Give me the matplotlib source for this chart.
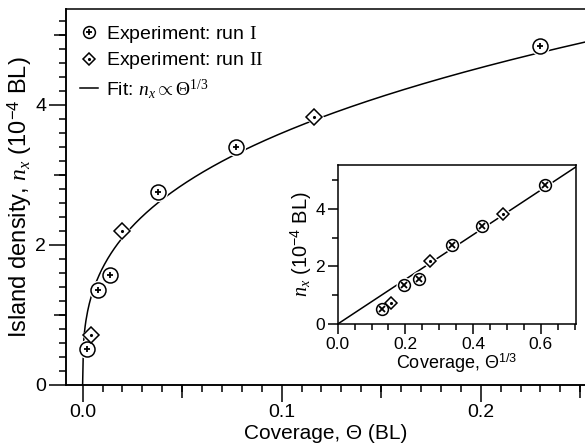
import numpy as np
import matplotlib
matplotlib.use('Agg')
import matplotlib.pyplot as plt
from matplotlib.lines import Line2D
from matplotlib.legend_handler import HandlerTuple

plt.rcParams['font.family'] = ['Liberation Sans', 'DejaVu Sans']
plt.rcParams['mathtext.fontset'] = 'custom'
plt.rcParams['mathtext.rm'] = 'Liberation Serif'
plt.rcParams['mathtext.it'] = 'Liberation Serif:italic'
plt.rcParams['mathtext.sf'] = 'Liberation Sans'

# data
theta_run1 = [0.0023, 0.0076, 0.014, 0.038, 0.077, 0.230]   # coverage (BL)
n_run1 = [0.51, 1.35, 1.57, 2.75, 3.40, 4.84]              # 1e-4 BL
theta_run2 = [0.0040, 0.020, 0.116]
n_run2 = [0.72, 2.20, 3.83]
k_fit = 7.75   # n_x = k * theta^(1/3)

xticks_main = [0.0, 0.1, 0.2]
yticks_main = [0, 2, 4]
xticks_inset = [0.0, 0.2, 0.4, 0.6]
yticks_inset = [0, 2, 4]

lw = 1.1

fig = plt.figure(figsize=(5.85, 4.46), dpi=100)
ax = fig.add_axes([0.1123, 0.1368, 1.0 - 0.1123, 0.9798 - 0.1368])


def draw_points(a, x, y, kind, big):
    if kind == 'circ':
        ms = 10.8 if big else 8.5
        a.plot(x, y, 'o', ms=ms + 3, mfc='white', mec='none', zorder=3, clip_on=False)
        a.plot(x, y, 'o', ms=ms, mfc='white', mec='black', mew=lw, zorder=4, clip_on=False)
        a.plot(x, y, '+' if big else 'x', ms=ms * 0.45, mec='black', mew=1.3, zorder=5, clip_on=False)
    else:
        ms = 8 if big else 6.6
        a.plot(x, y, 'D', ms=ms + 2.5, mfc='white', mec='none', zorder=3, clip_on=False)
        a.plot(x, y, 'D', ms=ms, mfc='white', mec='black', mew=lw, zorder=4, clip_on=False)
        a.plot(x, y, '.', ms=2.5, mfc='black', mec='black', zorder=5, clip_on=False)


# main panel
tt = np.linspace(0, 0.2524, 600)
ax.plot(tt, k_fit * tt ** (1 / 3), color='black', lw=lw, zorder=2)
draw_points(ax, theta_run1, n_run1, 'circ', True)
draw_points(ax, theta_run2, n_run2, 'diam', True)

ax.set_xlim(-0.0085, 0.2524)
ax.set_ylim(0, 5.37)
ax.spines['right'].set_visible(False)
for s in ax.spines.values():
    s.set_linewidth(lw)
ax.set_xticks(xticks_main)
ax.set_yticks(yticks_main)
ax.set_xticklabels(['0.0', '0.1', '0.2'])
ax.set_xticks(np.arange(0, 0.26, 0.01), minor=True)
ax.set_yticks(np.arange(0, 5.4, 0.2), minor=True)
ax.tick_params(which='major', direction='out', length=12, width=lw, labelsize=14, pad=2)
ax.tick_params(which='minor', direction='out', length=5, width=lw)
sx = ax.secondary_xaxis('bottom')
sx.set_xticks([0.05, 0.15, 0.25])
sx.tick_params(direction='out', length=9, width=lw, labelbottom=False)
sx.spines['bottom'].set_linewidth(lw)
sy = ax.secondary_yaxis('left')
sy.set_yticks([1, 3, 5])
sy.tick_params(direction='out', length=9, width=lw, labelleft=False)
sy.spines['left'].set_linewidth(lw)

ax.set_xlabel('Coverage, Θ (BL)', fontsize=15, labelpad=1.5)
ax.set_ylabel('Island density, $n_x$ (10$^{\\mathsf{-4}}$ BL)', fontsize=17, labelpad=1)

h1 = (Line2D([], [], ls='none', marker='o', ms=8.5, mfc='white', mec='black', mew=lw),
      Line2D([], [], ls='none', marker='+', ms=4, mec='black', mew=1.3))
h2 = (Line2D([], [], ls='none', marker='D', ms=6.5, mfc='white', mec='black', mew=lw),
      Line2D([], [], ls='none', marker='.', ms=2.5, mfc='black', mec='black'))
h3 = Line2D([], [], color='black', lw=lw)
ax.legend([h1, h2, h3],
          ['Experiment: run $\\mathrm{I}$', 'Experiment: run $\\mathrm{II}$',
           'Fit: $n_x\\propto\\Theta^{1/3}$'],
          handler_map={tuple: HandlerTuple(ndivide=1)},
          loc='upper left', bbox_to_anchor=(80 / 585, 1 - 24 / 446),
          bbox_transform=fig.transFigure, frameon=False, fontsize=14,
          handlelength=0.9, handletextpad=0.45, labelspacing=0.28,
          borderpad=0, borderaxespad=0)

# inset
ax2 = fig.add_axes([0.5773, 0.2735, 0.4073, 0.3565])
xx = np.linspace(0, 0.704, 50)
ax2.plot(xx, k_fit * xx, color='black', lw=lw, zorder=2)
draw_points(ax2, np.cbrt(theta_run1), n_run1, 'circ', False)
draw_points(ax2, np.cbrt(theta_run2), n_run2, 'diam', False)
ax2.set_xlim(0, 0.704)
ax2.set_ylim(0, 5.52)
for s in ax2.spines.values():
    s.set_linewidth(lw)
ax2.set_xticks(xticks_inset)
ax2.set_xticklabels(['0.0', '0.2', '0.4', '0.6'])
ax2.set_yticks(yticks_inset)
ax2.set_xticks(np.arange(0, 0.71, 0.05), minor=True)
ax2.set_yticks([1, 3, 5], minor=True)
ax2.tick_params(which='major', direction='out', length=7, width=lw, labelsize=12.5, pad=2)
ax2.tick_params(which='minor', direction='out', length=4, width=lw)
ax2.set_xlabel('Coverage, Θ$^{\\mathsf{1/3}}$', fontsize=13, labelpad=0)
ax2.set_ylabel('$n_x$ (10$^{\\mathsf{-4}}$ BL)', fontsize=14.5, labelpad=1)

fig.savefig('out.png', dpi=100)
